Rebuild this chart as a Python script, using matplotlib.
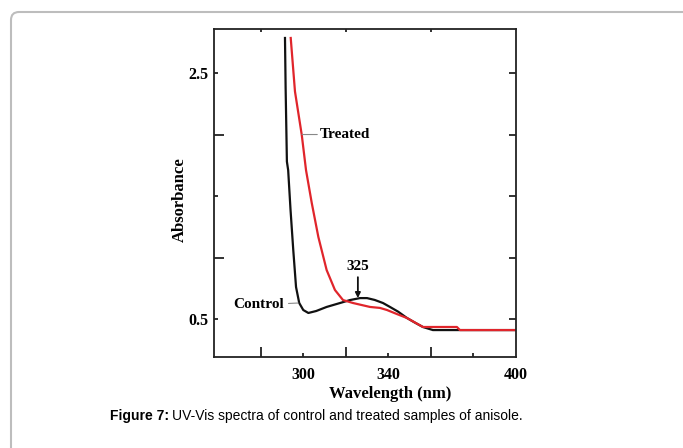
import matplotlib
matplotlib.use("Agg")
import matplotlib.pyplot as plt
from matplotlib.patches import FancyBboxPatch
from matplotlib.transforms import IdentityTransform

# spectra (wavelength in nm, absorbance)
control_nm = [291.3, 291.6, 292.2, 292.8, 293.9, 295.2, 296.5, 298.0, 299.9, 302.3,
              306.0, 310.9, 317.2, 321.9, 326.6, 329.9, 333.5, 337.4, 340.7, 344.5,
              348.7, 352.5, 356.2, 360.9, 370.0, 385.0, 400.0]
control_abs = [2.785, 2.38, 1.78, 1.71, 1.39, 1.06, 0.76, 0.63, 0.573, 0.549,
               0.565, 0.598, 0.63, 0.654, 0.67, 0.67, 0.655, 0.63, 0.598, 0.56,
               0.508, 0.47, 0.435, 0.41, 0.41, 0.41, 0.41]

treated_nm = [294.0, 296.0, 299.2, 301.2, 303.9, 307.0, 310.9, 314.8, 318.6, 323.3,
              331.3, 336.0, 339.3, 344.0, 348.7, 356.2, 365.0, 372.2, 373.6, 385.0, 400.0]
treated_abs = [2.785, 2.35, 1.996, 1.71, 1.443, 1.167, 0.898, 0.736, 0.654, 0.63,
               0.598, 0.59, 0.573, 0.54, 0.508, 0.435, 0.435, 0.435, 0.41, 0.41, 0.41]

x_ticks = [280, 300, 320, 340, 360, 380, 400]
x_labels = ["", "300", "", "340", "", "", "400"]
y_ticks = [0.5, 1.0, 1.5, 2.0, 2.5]
y_labels = ["0.5", "", "", "", "2.5"]
peak_nm = 325

serif = "Liberation Serif"
W, H = 683, 448

fig = plt.figure(figsize=(W / 100, H / 100), dpi=100)
fig.patch.set_facecolor("white")

# panel border with rounded corner, runs off bottom/right
frame = FancyBboxPatch((11, -30), 720, H - 12 + 30,
                       boxstyle="round,pad=0,rounding_size=8",
                       transform=IdentityTransform(), fill=False,
                       edgecolor="#bdbdbd", linewidth=1.5)
fig.add_artist(frame)

ax = fig.add_axes([214 / W, (H - 357) / H, (516 - 214) / W, (357 - 29) / H])
ax.plot(control_nm, control_abs, color="#111111", lw=1.6)
ax.plot(treated_nm, treated_abs, color="#e0252b", lw=1.6)

ax.set_xlim(257.9, 400)
ax.set_ylim(0.191, 2.858)

for s in ax.spines.values():
    s.set_linewidth(1.3)
    s.set_color("#222222")

ax.set_xticks(x_ticks)
ax.set_xticklabels(x_labels, fontfamily=serif, fontweight="bold", fontsize=11.5)
ax.set_yticks(y_ticks)
ax.set_yticklabels(y_labels, fontfamily=serif, fontweight="bold", fontsize=11.5)
ax.tick_params(axis="both", direction="in", width=1.3, color="#222222", pad=5)
ax.tick_params(axis="x", top=True, pad=7)
ax.tick_params(axis="y", right=True, pad=4)

x_len = {280: 7, 300: 3, 320: 7, 340: 3, 360: 7, 380: 3, 400: 0}
for t, v in zip(ax.xaxis.get_major_ticks(), x_ticks):
    t.tick1line.set_markersize(x_len[v])
    t.tick2line.set_markersize(2 if x_len[v] == 7 else 0)
y_len = {0.5: 3, 1.0: 7, 1.5: 3, 2.0: 7, 2.5: 3}
for t, v in zip(ax.yaxis.get_major_ticks(), y_ticks):
    t.tick1line.set_markersize(y_len[v])
    t.tick2line.set_markersize(5)

ax.set_xlabel("Wavelength (nm)", fontfamily=serif, fontweight="bold", fontsize=12,
              va="center")
ax.xaxis.set_label_coords(0.583, -0.113)
ax.set_ylabel("Absorbance", fontfamily=serif, fontweight="bold", fontsize=12)
ax.yaxis.set_label_coords(-0.088, 0.48)

txt = dict(fontfamily=serif, fontweight="bold", fontsize=11)
ax.annotate("Treated", xy=(299.3, 2.0), xytext=(307.8, 2.0), va="center", ha="left",
            arrowprops=dict(arrowstyle="-", color="#888888", lw=0.8, shrinkA=0, shrinkB=0),
            **txt)
ax.annotate("Control", xy=(297.5, 0.63), xytext=(291.0, 0.615), va="center", ha="right",
            arrowprops=dict(arrowstyle="-", color="#888888", lw=0.8, shrinkA=1, shrinkB=0),
            **txt)
ax.text(peak_nm + 0.6, 0.93, str(peak_nm), ha="center", va="center", **txt)
ax.annotate("", xy=(peak_nm + 0.6, 0.67), xytext=(peak_nm + 0.6, 0.84),
            arrowprops=dict(arrowstyle="-|>,head_length=0.3,head_width=0.15",
                            color="#111111", lw=1.3, shrinkA=0, shrinkB=0))

# caption: bold lead-in followed by regular text
fig.canvas.draw()
r = fig.canvas.get_renderer()
cap_y = (H - 416) / H
lead = fig.text(110 / W, cap_y, "Figure 7:", fontfamily="Liberation Sans",
                fontweight="bold", fontsize=10, va="center", ha="left")
bb = lead.get_window_extent(renderer=r)
fig.text((bb.x1 + 3) / W, cap_y, "UV-Vis spectra of control and treated samples of anisole.",
         fontfamily="Liberation Sans", fontsize=10, va="center", ha="left")

fig.savefig("out.png", dpi=100)
